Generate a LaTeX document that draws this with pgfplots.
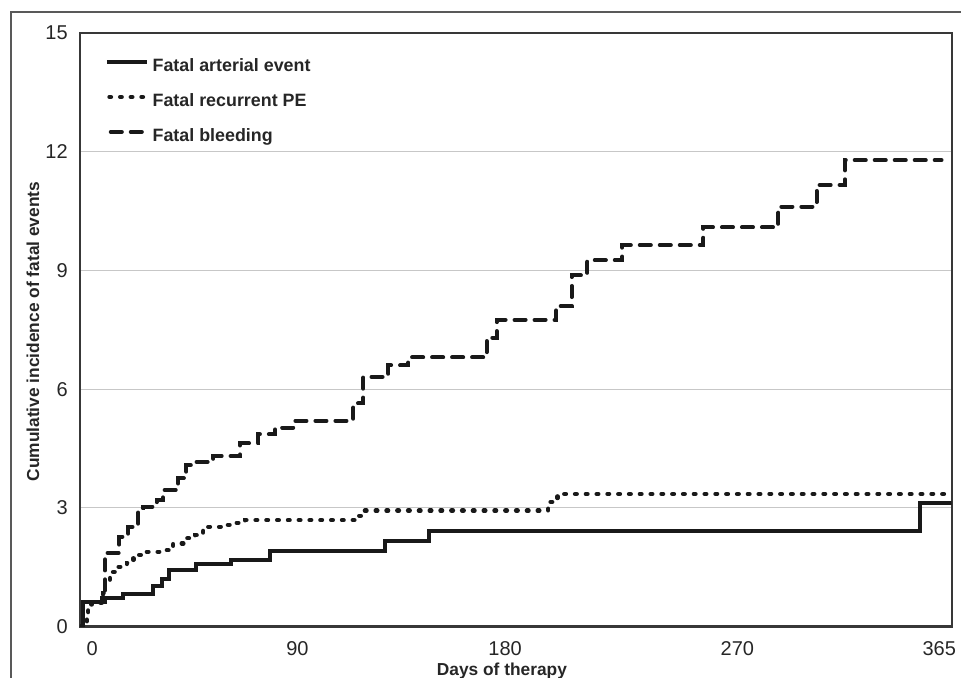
\documentclass[border=0pt]{standalone}
\usepackage{fontspec}
\setmainfont{Liberation Sans}
\usepackage{pgfplots}
\pgfplotsset{compat=1.18}
\usepackage{pgfplotstable}

\pgfplotsset{
  dotlegend/.style={legend image code/.code={\draw[##1, dash pattern=on 1.2pt off 6.8pt] (2pt,3.6pt) -- (30pt,3.6pt);}},
  dashlegend/.style={legend image code/.code={\draw[##1] (3pt,3.6pt) -- (29pt,3.6pt);}},
}

\pgfplotstableread{
d v
-4.8 0
-4 0.63
4.05 0.72
13.4 0.81
26.3 1.02
29.9 1.20
33.0 1.42
44.7 1.59
59.7 1.69
76.6 1.92
126.2 2.17
145.3 2.41
356.8 3.13
370.4 3.13
}\arterial

\pgfplotstableread{
d v
-4.8 0
-3.1 0.04
-2.4 0.21
-1.7 0.42
-0.3 0.59
1.9 0.61
4.7 0.84
5.5 1.18
7.6 1.38
11.2 1.51
14.8 1.61
17.7 1.81
23.4 1.89
32.1 1.93
34.9 2.10
40.7 2.23
44.3 2.31
47.8 2.52
57.9 2.57
62.2 2.62
65.8 2.69
113.5 2.80
116.5 2.93
196.5 3.15
200.5 3.35
368 3.35
}\recpe

\pgfplotstableread{
d v
-4.8 0
-4 0.63
5.5 1.86
11.6 2.27
15.5 2.52
19.8 2.99
21.9 3.03
27.8 3.20
30.5 3.45
37 3.75
40.5 4.08
44.3 4.16
52.2 4.31
63.7 4.63
71.6 4.86
78.8 5.03
86.6 5.20
112.5 5.64
116.8 6.31
127.6 6.60
136.2 6.80
170 7.30
174.3 7.75
199.9 8.10
206.6 8.88
213.4 9.26
228.4 9.64
263.4 10.09
295.7 10.61
312.2 11.16
324.4 11.79
366 11.79
}\bleeding

\begin{document}
\begin{tikzpicture}
\useasboundingbox (0pt,0pt) rectangle (720.75pt,508.5pt);
\draw[black!65, line width=0.9pt] (8.25pt,-4pt) -- (8.25pt,499.5pt) -- (725pt,499.5pt);
\begin{axis}[
  at={(60pt,38.6pt)}, anchor=south west,
  scale only axis, width=653.8pt, height=445.1pt,
  xmin=-5.3, xmax=370.4, ymin=0, ymax=15,
  xtick={0,88.4,177.9,278,365},
  xticklabels={0,90,180,270,365},
  ytick={0,3,6,9,12,15},
  major tick length=0pt,
  ymajorgrids,
  grid style={black!22, line width=0.8pt},
  axis line style={black!78, line width=1.6pt},
  tick label style={font=\fontsize{15}{15}\selectfont, text=black!85},
  yticklabel style={inner sep=0pt, xshift=-9pt},
  xticklabel style={inner sep=0pt, yshift=-11pt},
  /pgf/number format/assume math mode=true,
  xlabel={Days of therapy},
  ylabel={Cumulative incidence of fatal events},
  label style={font=\bfseries\fontsize{13}{13}\selectfont, text=black!85},
  xlabel style={at={(rel axis cs:0.484,0)}, anchor=base, yshift=-37pt},
  ylabel style={at={(rel axis cs:-0.0539,0.497)}, anchor=center},
  legend style={at={(rel axis cs:0.0281,0.957)}, anchor=north west, draw=none, fill=none,
    font=\bfseries\fontsize{13.4}{13.4}\selectfont, text=black!85,
    row sep=14.2pt, column sep=2.8pt, inner sep=0pt,
    nodes={inner sep=0pt, text height=9.5pt, text depth=2.5pt}},
  legend cell align=left,
  legend image code/.code={\draw[#1] (0pt,3.6pt) -- (30pt,3.6pt);},
]
\addplot[const plot, black!90, line width=3pt] table[x=d,y=v]{\arterial};
\addlegendentry{Fatal arterial event}
\addplot[const plot, black!90, line width=3.2pt, line cap=round, dash pattern=on 1.3pt off 6.8pt, dotlegend] table[x=d,y=v]{\recpe};
\addlegendentry{Fatal recurrent PE}
\addplot[const plot, black!90, line width=3pt, line cap=round, dash pattern=on 8.3pt off 6.7pt, dashlegend] table[x=d,y=v]{\bleeding};
\addlegendentry{Fatal bleeding}
\end{axis}
\end{tikzpicture}
\end{document}
